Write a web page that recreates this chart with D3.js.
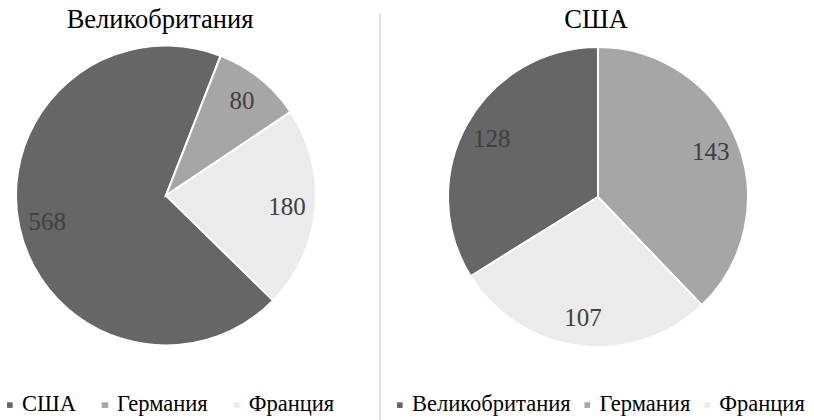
<!DOCTYPE html>
<html>
<head>
<meta charset="utf-8">
<script src="https://cdn.jsdelivr.net/npm/d3@7"></script>
<style>
  body { margin: 0; background: #fff; }
  #wrap { position: relative; width: 814px; height: 420px; }
  svg { display: block; }
  .legend { position: absolute; top: 392px; white-space: nowrap;
            font-family: "Liberation Serif"; font-size: 24px; line-height: 24px; color: #000;
            transform: scale(0.9375); transform-origin: 0 0; }
  .legend .item { display: inline-block; position: relative; padding-left: 16px; }
  .legend .key { position: absolute; left: 0; top: 11px; width: 6.4px; height: 6.4px; }
</style>
</head>
<body>
<div id="wrap">
<svg id="chart" width="814" height="420"></svg>
</div>
<script>
// ----------------- DATA ----------------- //
var ukCategories = ['США', 'Германия', 'Франция'];
var ukValues = [568, 80, 180];

var usaCategories = ['Великобритания', 'Германия', 'Франция'];
var usaValues = [128, 143, 107];

var sliceColors = ['#666666', '#a6a6a6', '#ebebeb'];
var serif = '"Liberation Serif"';
var baseSize = 24; // every text is drawn at this size and scaled

var svg = d3.select('#chart');

// divider between the two charts
svg.append('line')
    .attr('x1', 380).attr('x2', 380)
    .attr('y1', 13).attr('y2', 420)
    .attr('stroke', '#d9d9d9')
    .attr('stroke-width', 1.5);

function drawPie(opts) {
    var g = svg.append('g');
    var color = d3.scaleOrdinal().domain(opts.categories).range(sliceColors);
    var start = opts.startDeg * Math.PI / 180;

    var pie = d3.pie()
        .sort(null)
        .value(d => d.value)
        .startAngle(start)
        .endAngle(start + 2 * Math.PI);

    var data = opts.categories.map((c, i) => ({ name: c, value: opts.values[i] }));
    var arcs = pie(data);

    var arc = d3.arc().innerRadius(0).outerRadius(opts.r);
    var labelArc = d3.arc().innerRadius(opts.r * 0.81).outerRadius(opts.r * 0.81);

    var pieG = g.append('g')
        .attr('transform', 'translate(' + opts.cx + ',' + opts.cy + ')');

    pieG.selectAll('path')
        .data(arcs)
        .join('path')
        .attr('d', arc)
        .attr('fill', d => color(d.data.name))
        .attr('stroke', '#fff')
        .attr('stroke-width', 2);

    pieG.selectAll('text')
        .data(arcs)
        .join('text')
        .attr('transform', d => 'translate(' + labelArc.centroid(d) + ') scale(' + (25 / baseSize) + ')')
        .attr('text-anchor', 'middle')
        .attr('dy', '0.35em')
        .style('font-family', serif)
        .style('font-size', baseSize + 'px')
        .attr('fill', '#404040')
        .text(d => d.data.value);

    // title
    g.append('text')
        .attr('transform', 'translate(' + opts.titleX + ',28) scale(' + (26.5 / baseSize) + ')')
        .attr('text-anchor', 'middle')
        .style('font-family', serif)
        .style('font-size', baseSize + 'px')
        .attr('fill', '#000')
        .text(opts.title);

    // legend (html, so the text width lays itself out)
    var legend = d3.select('#wrap').append('div')
        .attr('class', 'legend')
        .style('left', opts.legendX + 'px');

    var items = legend.selectAll('.item')
        .data(opts.categories)
        .join('span')
        .attr('class', 'item')
        .style('margin-right', (opts.legendGap / 0.9375) + 'px');

    items.append('span')
        .attr('class', 'key')
        .style('background', d => color(d));

    items.append('span').text(d => d);
}

drawPie({
    title: 'Великобритания',
    titleX: 160,
    categories: ukCategories,
    values: ukValues,
    cx: 166, cy: 195.5, r: 150,
    startDeg: 134.4,
    legendX: 7, legendGap: 26
});

drawPie({
    title: 'США',
    titleX: 596,
    categories: usaCategories,
    values: usaValues,
    cx: 598, cy: 197, r: 150,
    startDeg: 238.1,
    legendX: 397, legendGap: 14
});
</script>
</body>
</html>
